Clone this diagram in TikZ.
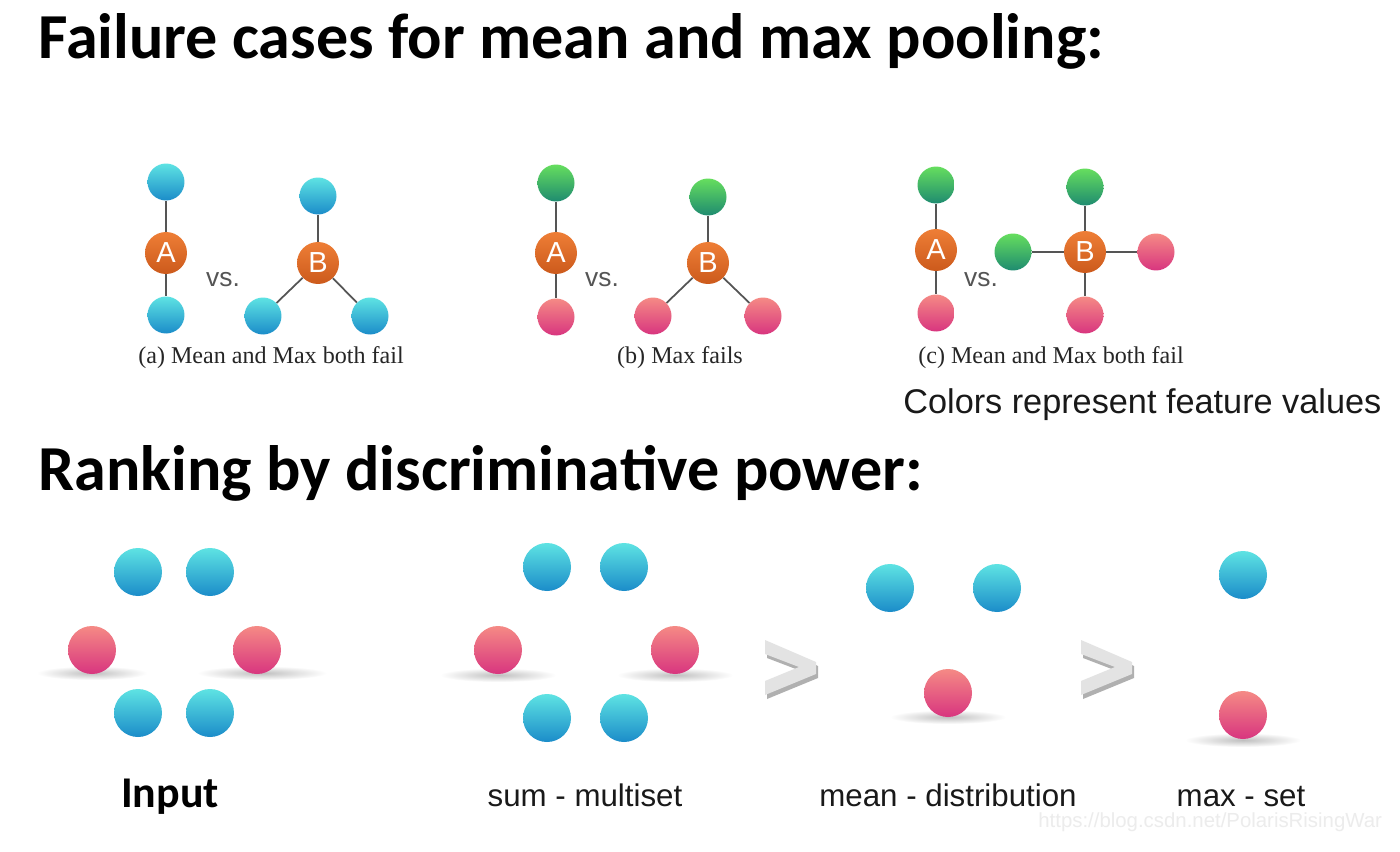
\documentclass[tikz,border=0pt]{standalone}
\usepackage{fontspec}
\setmainfont{Liberation Serif}
\newfontfamily\headfont{Carlito}
\newfontfamily\plainfont{Liberation Sans}
\usetikzlibrary{positioning}

\definecolor{bluetop}{HTML}{5EE3E3}
\definecolor{bluebot}{HTML}{1B8CC9}
\definecolor{pinktop}{HTML}{F58A85}
\definecolor{pinkbot}{HTML}{D8357F}
\definecolor{greentop}{HTML}{66DE5E}
\definecolor{greenbot}{HTML}{1E8B70}
\definecolor{hubtop}{HTML}{EE7E36}
\definecolor{hubbot}{HTML}{CC5A1C}
\definecolor{linkgray}{HTML}{555555}

\begin{document}
\begin{tikzpicture}[x=0.02cm, y=-0.02cm,
  ball/.style={circle, inner sep=0pt, minimum size=0.74cm},
  blueball/.style={ball, top color=bluetop, bottom color=bluebot},
  pinkball/.style={ball, top color=pinktop, bottom color=pinkbot},
  greenball/.style={ball, top color=greentop, bottom color=greenbot},
  bigball/.style={minimum size=0.96cm},
  hub/.style={circle, inner sep=0pt, minimum size=0.84cm, top color=hubtop, bottom color=hubbot,
    text=white, font=\plainfont\fontsize{16.5}{16.5}\selectfont},
  link/.style={draw=linkgray, line width=1pt},
  vs/.style={text=linkgray, font=\plainfont\fontsize{15}{15}\selectfont},
  subcap/.style={anchor=base, text=black!85, font=\fontsize{13.7}{14}\selectfont},
  setname/.style={anchor=base, text=black!90, font=\plainfont\fontsize{17.8}{18}\selectfont},
  heading/.style={anchor=base west, inner sep=0pt, font=\headfont\bfseries\fontsize{36.5}{36.5}\selectfont},
  chevface/.style={fill=gray!22},
  chevside/.style={fill=gray!62},
  blob/.style={inner color=gray!50, outer color=white}]
  \fill[white] (0,0) rectangle (1400,852);
  \useasboundingbox (0,0) rectangle (1400,852);

  \node[heading] (title1) at (38,58) {Failure cases for mean and max pooling:};

  % (a) mean and max both fail
  \node[hub] (aA) at (166,253) {A};
  \node[blueball] (aAt) at (166,182) {};
  \node[blueball] (aAb) at (166,315) {};
  \node[vs] (avs) at (223,280) {vs.};
  \node[hub] (aB) at (318,263) {B};
  \node[blueball] (aBt) at (318,196) {};
  \node[blueball] (aBl) at (263,316) {};
  \node[blueball] (aBr) at (370,316) {};
  \draw[link] (aAt) -- (aA) -- (aAb);
  \draw[link] (aBt) -- (aB); \draw[link] (aB) -- (aBl); \draw[link] (aB) -- (aBr);
  \node[subcap] (acap) at (271,363) {(a) Mean and Max both fail};

  % (b) max fails
  \node[hub] (bA) at (556,253) {A};
  \node[greenball] (bAt) at (556,183) {};
  \node[pinkball] (bAb) at (556,317) {};
  \node[vs] (bvs) at (602,280) {vs.};
  \node[hub] (bB) at (708,263) {B};
  \node[greenball] (bBt) at (708,197) {};
  \node[pinkball] (bBl) at (653,316) {};
  \node[pinkball] (bBr) at (763,316) {};
  \draw[link] (bAt) -- (bA) -- (bAb);
  \draw[link] (bBt) -- (bB); \draw[link] (bB) -- (bBl); \draw[link] (bB) -- (bBr);
  \node[subcap] (bcap) at (680,363) {(b) Max fails};

  % (c) mean and max both fail
  \node[hub] (cA) at (936,250) {A};
  \node[greenball] (cAt) at (936,185) {};
  \node[pinkball] (cAb) at (936,313) {};
  \node[vs] (cvs) at (981,280) {vs.};
  \node[hub] (cB) at (1085,252) {B};
  \node[greenball] (cBt) at (1085,187) {};
  \node[greenball] (cBl) at (1013,252) {};
  \node[pinkball] (cBr) at (1156,252) {};
  \node[pinkball] (cBb) at (1085,315) {};
  \draw[link] (cAt) -- (cA) -- (cAb);
  \draw[link] (cBt) -- (cB) -- (cBb); \draw[link] (cBl) -- (cB) -- (cBr);
  \node[subcap] (ccap) at (1051,363) {(c) Mean and Max both fail};

  \node[anchor=base west, inner sep=0pt, text=black!90, font=\plainfont\fontsize{19.5}{20}\selectfont]
    (legend) at (903,413) {Colors represent feature values};

  \node[heading] (title2) at (38,490) {Ranking by discriminative power:};

  % shadows under the balls
  \shade[blob] (92,673) ellipse [x radius=55, y radius=7];
  \shade[blob] (262,673) ellipse [x radius=65, y radius=7];
  \shade[blob] (498,675) ellipse [x radius=58, y radius=7];
  \shade[blob] (675,675) ellipse [x radius=58, y radius=7];
  \shade[blob] (948,717) ellipse [x radius=58, y radius=7];
  \shade[blob] (1243,740) ellipse [x radius=58, y radius=7];

  % input
  \node[blueball, bigball] (in1) at (138,572) {};
  \node[blueball, bigball] (in2) at (210,572) {};
  \node[pinkball, bigball] (in3) at (92,650) {};
  \node[pinkball, bigball] (in4) at (257,650) {};
  \node[blueball, bigball] (in5) at (138,713) {};
  \node[blueball, bigball] (in6) at (210,713) {};
  \node[anchor=base, font=\headfont\bfseries\fontsize{25}{25}\selectfont] (inlab) at (170,807) {Input};

  % sum
  \node[blueball, bigball] (sum1) at (547,567) {};
  \node[blueball, bigball] (sum2) at (624,567) {};
  \node[pinkball, bigball] (sum3) at (498,650) {};
  \node[pinkball, bigball] (sum4) at (675,650) {};
  \node[blueball, bigball] (sum5) at (547,718) {};
  \node[blueball, bigball] (sum6) at (624,718) {};
  \node[setname] (sumlab) at (585,806) {sum - multiset};

  % greater-than signs
  \foreach \dx in {0,316} {
    \fill[chevside, xshift=\dx*0.02cm] (767,644) -- (818,666) -- (818,678) -- (767,699) -- (767,685) -- (801,671) -- (767,658) -- cycle;
    \fill[chevface, xshift=\dx*0.02cm] (765,640) -- (816,662) -- (816,674) -- (765,695) -- (765,681) -- (799,667) -- (765,654) -- cycle;
  }

  % mean
  \node[blueball, bigball] (mean1) at (890,588) {};
  \node[blueball, bigball] (mean2) at (997,588) {};
  \node[pinkball, bigball] (mean3) at (948,693) {};
  \node[setname] (meanlab) at (948,806) {mean - distribution};

  % max
  \node[blueball, bigball] (max1) at (1243,575) {};
  \node[pinkball, bigball] (max2) at (1243,715) {};
  \node[setname] (maxlab) at (1241,806) {max - set};

  \node[anchor=base west, inner sep=0pt, text=gray!15, font=\plainfont\fontsize{11.6}{12}\selectfont]
    (mark) at (1038,827) {https://blog.csdn.net/PolarisRisingWar};
\end{tikzpicture}
\end{document}
